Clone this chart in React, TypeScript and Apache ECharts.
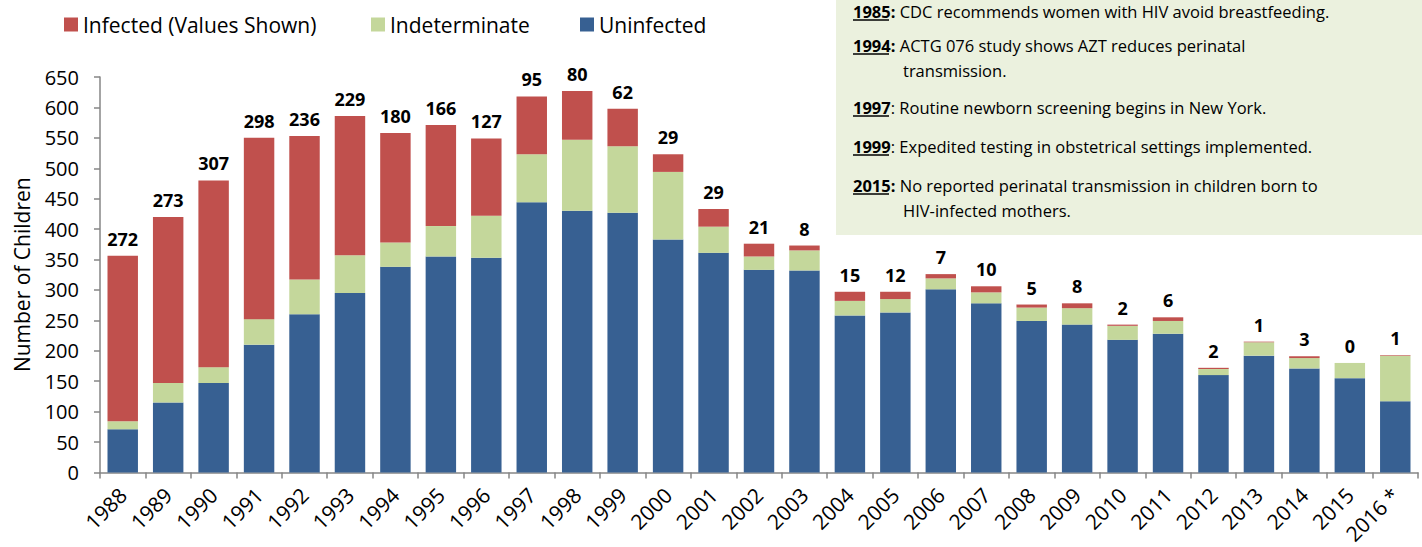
import React, { useEffect, useRef } from "react";
import * as echarts from "echarts";

const years = ["1988","1989","1990","1991","1992","1993","1994","1995","1996","1997","1998","1999","2000","2001","2002","2003","2004","2005","2006","2007","2008","2009","2010","2011","2012","2013","2014","2015","2016 *"];
const uninfected = [71,115,147,210,260,295,338,355,353,444,430,427,383,361,333,332,258,263,301,278,249,243,218,228,160,192,171,155,117];
const indeterminate = [13,32,26,42,57,62,40,50,69,79,117,109,111,43,22,33,24,22,18,18,22,27,23,21,10,22,17,25,75];
const infected = [272,273,307,298,236,229,180,166,127,95,80,62,29,29,21,8,15,12,7,10,5,8,2,6,2,1,3,0,1];

const yMin = 0;
const yMax = 650;
const yStep = 50;

const seriesNames = ["Infected (Values Shown)", "Indeterminate", "Uninfected"];

const noteYears = ["1985", "1994", "1997", "1999", "2015"];
const noteColonBold = [true, true, false, false, true];
const noteLines1 = [
  "CDC recommends women with HIV avoid breastfeeding.",
  "ACTG 076 study shows AZT reduces perinatal",
  "Routine newborn screening begins in New York.",
  "Expedited testing in obstetrical settings implemented.",
  "No reported perinatal transmission in children born to",
];
const noteLines2 = ["", "transmission.", "", "", "HIV-infected mothers."];

const FONT = "'Open Sans', sans-serif";
const NOTE_FS = 16.5;

export default function App() {
  const ref = useRef<HTMLDivElement>(null);
  useEffect(() => {
    if (!ref.current) return;
    const chart = echarts.init(ref.current, undefined, { renderer: "svg" });

    const noteY = [11, 45, 107, 146, 185];
    const noteY2 = [0, 70, 0, 0, 210];
    const graphics: any[] = [
      {
        type: "rect",
        shape: { x: 836, y: -5, width: 600, height: 240 },
        style: { fill: "#EBF1DE" },
        z: 0,
      },
    ];
    noteYears.forEach((yr, i) => {
      graphics.push({
        type: "text",
        x: 853,
        y: noteY[i],
        style: {
          text: `{y|${yr}}{${noteColonBold[i] ? "b" : "n"}|:} ${noteLines1[i]}`,
          fontFamily: FONT,
          fontSize: NOTE_FS,
          lineHeight: 18,
          fill: "#000",
          verticalAlign: "middle",
          rich: {
            y: { fontWeight: "bold", fontFamily: FONT, fontSize: NOTE_FS, lineHeight: 18 },
            b: { fontWeight: "bold", fontFamily: FONT, fontSize: NOTE_FS, lineHeight: 18 },
            n: { fontFamily: FONT, fontSize: NOTE_FS, lineHeight: 18 },
          },
        },
        z: 2,
      });
      graphics.push({
        type: "line",
        shape: { x1: 853, y1: noteY[i] + 9, x2: 889, y2: noteY[i] + 9 },
        style: { stroke: "#000", lineWidth: 1.5 },
        z: 2,
      });
      if (noteLines2[i]) {
        graphics.push({
          type: "text",
          x: 903,
          y: noteY2[i],
          style: {
            text: noteLines2[i],
            fontFamily: FONT,
            fontSize: NOTE_FS,
            fill: "#000",
            verticalAlign: "middle",
          },
          z: 2,
        });
      }
    });

    const barCommon = {
      type: "bar",
      stack: "total",
      barWidth: "67%",
    };

    const legendLefts = [59, 366, 575];
    const legends = seriesNames.map((n, i) => ({
      left: legendLefts[i],
      top: 9,
      itemWidth: 14,
      itemHeight: 14,
      itemGap: 10,
      icon: "rect",
      textStyle: { fontSize: 21, color: "#000", fontFamily: FONT },
      data: [n],
    }));

    chart.setOption({
      animation: false,
      textStyle: { fontFamily: FONT },
      grid: { left: 100, right: 4, top: 77, bottom: 72, containLabel: false },
      legend: legends,
      xAxis: {
        type: "category",
        data: years,
        axisLine: { lineStyle: { color: "#868686", width: 1.5 } },
        axisTick: { show: true, length: 6, lineStyle: { color: "#868686", width: 1.5 } },
        axisLabel: { rotate: 45, fontSize: 21, color: "#000", margin: 19, interval: 0, fontFamily: FONT },
      },
      yAxis: {
        type: "value",
        min: yMin,
        max: yMax,
        interval: yStep,
        name: "Number of Children",
        nameLocation: "middle",
        nameGap: 68,
        nameTextStyle: { fontSize: 21, color: "#000", fontFamily: FONT },
        splitLine: { show: false },
        axisLine: { show: true, lineStyle: { color: "#868686", width: 1.5 } },
        axisTick: { show: true, length: 6, lineStyle: { color: "#868686", width: 1.5 } },
        axisLabel: { fontSize: 20, color: "#000", margin: 21, fontFamily: FONT },
      },
      series: [
        {
          ...barCommon,
          name: "Uninfected",
          data: uninfected,
          itemStyle: { color: "#376092" },
        },
        {
          ...barCommon,
          name: "Indeterminate",
          data: indeterminate,
          itemStyle: { color: "#C4D79B" },
        },
        {
          ...barCommon,
          name: "Infected (Values Shown)",
          data: infected,
          itemStyle: { color: "#C0504D" },
          label: {
            show: true,
            position: "top",
            distance: 8,
            fontSize: 18,
            fontWeight: "bold",
            color: "#000",
            fontFamily: FONT,
          },
        },
      ],
      graphic: graphics,
    });
    return () => chart.dispose();
  }, []);
  return (
    <div
      ref={ref}
      style={{ position: "fixed", left: 0, top: 0, width: 1422, height: 547, background: "#fff" }}
    />
  );
}
